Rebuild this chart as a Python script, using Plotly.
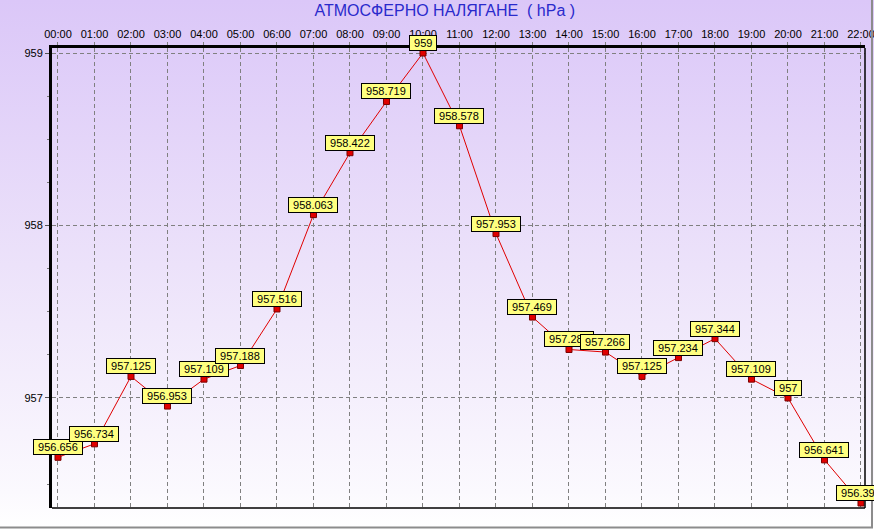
import base64
import plotly.graph_objects as go

# ---- data ----
hours = list(range(23))
hour_labels = [f"{h:02d}:00" for h in hours]
pressure = [956.656, 956.734, 957.125, 956.953, 957.109, 957.188, 957.516,
            958.063, 958.422, 958.719, 959.0, 958.578, 957.953, 957.469,
            957.281, 957.266, 957.125, 957.234, 957.344, 957.109, 957.0,
            956.641, 956.391]
value_labels = [format(v, "g") for v in pressure]
title_text = "АТМОСФЕРНО НАЛЯГАНЕ  ( hPa )"

# ---- layout geometry ----
W, H = 874, 529
ML, MR, MT, MB = 52, 9, 48, 21
PW, PH = W - ML - MR, H - MT - MB

def px_to_paper_x(p):
    return (p - ML) / PW

def px_to_paper_y(p):
    return (H - MB - p) / PH

# vertical gradient background as svg
svg = f'''<svg xmlns="http://www.w3.org/2000/svg" width="{W}" height="{H}" preserveAspectRatio="none">
<defs><linearGradient id="g" x1="0" y1="0" x2="0" y2="1">
<stop offset="0" stop-color="#DBC7F8"/>
<stop offset="0.5" stop-color="#ECE2FA"/>
<stop offset="0.93" stop-color="#FBF9FE"/>
<stop offset="1" stop-color="#FFFFFF"/>
</linearGradient></defs>
<rect width="{W}" height="{H}" fill="url(#g)"/></svg>'''
svg_uri = "data:image/svg+xml;base64," + base64.b64encode(svg.encode()).decode()

fig = go.Figure()
fig.add_trace(go.Scatter(
    x=hours, y=pressure, mode="lines+markers",
    line=dict(color="#E00000", width=1),
    marker=dict(symbol="square", size=6, color="#E00000",
                line=dict(color="#7A0000", width=1)),
    hoverinfo="skip", showlegend=False, cliponaxis=False,
))

NB = "\u00a0"
for h, v, t in zip(hours, pressure, value_labels):
    fig.add_annotation(
        x=h, y=v, text=NB + t + NB, showarrow=False, xanchor="center", yanchor="bottom",
        yshift=2, bgcolor="#FFFF80", bordercolor="#000000", borderwidth=1,
        borderpad=1, font=dict(family="Liberation Sans, Arial", size=11, color="#000000"),
    )

fig.add_layout_image(
    source=svg_uri, xref="paper", yref="paper",
    x=px_to_paper_x(0), y=px_to_paper_y(0),
    sizex=W / PW, sizey=H / PH, sizing="stretch",
    xanchor="left", yanchor="top", layer="below",
)

# right and bottom thin frame lines of plot area
fig.add_shape(type="line", xref="paper", yref="paper", x0=1, x1=1, y0=0, y1=1,
              line=dict(color="#000000", width=1.5))
fig.add_shape(type="line", xref="paper", yref="paper", x0=0, x1=1, y0=0, y1=0,
              line=dict(color="#000000", width=1.5))
# outer gray border (right / bottom)
fig.add_shape(type="line", xref="paper", yref="paper",
              x0=px_to_paper_x(872), x1=px_to_paper_x(872),
              y0=px_to_paper_y(0), y1=px_to_paper_y(528),
              line=dict(color="#8C8C8C", width=2))
fig.add_shape(type="line", xref="paper", yref="paper",
              x0=px_to_paper_x(0), x1=px_to_paper_x(873),
              y0=px_to_paper_y(527.5), y1=px_to_paper_y(527.5),
              line=dict(color="#8C8C8C", width=2))

fig.update_layout(
    width=W, height=H,
    margin=dict(l=ML, r=MR, t=MT, b=MB, pad=0, autoexpand=False),
    paper_bgcolor="rgba(0,0,0,0)", plot_bgcolor="rgba(0,0,0,0)",
    font=dict(family="Liberation Sans, Arial", size=11, color="#000000"),
    title=dict(text=title_text, x=0.509, xref="container", xanchor="center",
               y=1, yref="container", yanchor="top", pad=dict(t=5),
               automargin=False,
               font=dict(family="Liberation Sans, Arial", size=16, color="#2A2ACC")),
    xaxis=dict(
        side="top", range=[-0.164, 22.11], tickmode="array",
        tickvals=hours, ticktext=hour_labels, automargin=False,
        ticklabeloverflow="allow",
        showgrid=True, gridcolor="#808080", griddash="4px,3px", gridwidth=1,
        showline=True, linecolor="#000000", linewidth=3,
        ticks="outside", ticklen=3, tickcolor="#808080",
        zeroline=False, fixedrange=True,
        tickfont=dict(size=11),
    ),
    yaxis=dict(
        range=[956.362, 959.029], tickmode="linear", tick0=957, dtick=1,
        automargin=False, ticklabeloverflow="allow",
        showgrid=True, gridcolor="#808080", griddash="4px,3px", gridwidth=1,
        showline=True, linecolor="#000000", linewidth=3,
        ticks="outside", ticklen=4, tickcolor="#555555",
        minor=dict(dtick=0.25, tick0=957, ticks="outside", ticklen=2,
                   tickcolor="#777777", showgrid=False),
        zeroline=False, fixedrange=True,
        tickfont=dict(size=11),
    ),
)

fig.write_html(
    "out.html",
    config={"displayModeBar": False, "staticPlot": True},
    post_script="document.body.style.margin='0';document.body.style.overflow='hidden';",
)
